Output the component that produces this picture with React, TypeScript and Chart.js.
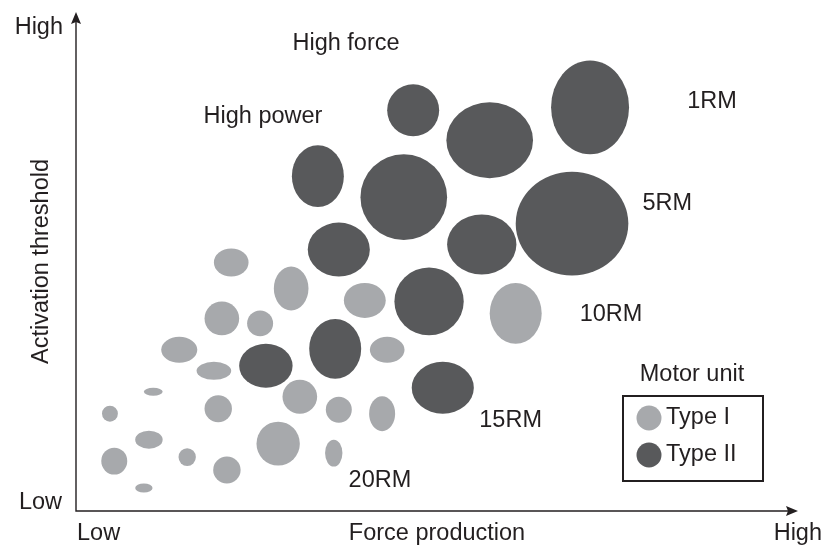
import React, { useEffect, useRef } from "react";
import { Chart, registerables } from "chart.js";

Chart.register(...registerables);

// Diagram units: x 0..100 (Force production), y 0..100 (Activation threshold)
// Type I (slow) motor units: centre and half-sizes
const typeIX = [21.5, 29.8, 40.0, 20.2, 25.5, 14.3, 43.1, 19.1, 10.7, 31.0, 4.7, 19.7, 36.4, 42.4, 10.1, 28.0, 5.3, 15.4, 20.9, 35.7, 9.4, 60.9];
const typeIY = [49.8, 44.6, 42.2, 38.6, 37.6, 32.3, 32.3, 28.1, 23.9, 22.9, 19.5, 20.5, 20.3, 19.5, 14.3, 13.5, 10.0, 10.8, 8.2, 11.6, 4.6, 39.6];
const typeIRx = [2.4, 2.4, 2.9, 2.4, 1.8, 2.5, 2.4, 2.4, 1.3, 2.4, 1.1, 1.9, 1.8, 1.8, 1.9, 3.0, 1.8, 1.2, 1.9, 1.2, 1.2, 3.6];
const typeIRy = [2.8, 4.4, 3.5, 3.4, 2.6, 2.6, 2.6, 1.8, 0.8, 3.4, 1.6, 2.7, 2.6, 3.5, 1.8, 4.4, 2.7, 1.8, 2.7, 2.7, 0.9, 6.1];

// Type II (fast) motor units
const typeIIX = [33.5, 45.4, 36.4, 46.7, 57.3, 71.2, 68.7, 56.2, 48.9, 26.3, 35.9, 50.8];
const typeIIY = [67.1, 62.9, 52.4, 80.3, 74.3, 80.9, 57.6, 53.4, 42.0, 29.1, 32.5, 24.7];
const typeIIRx = [3.6, 6.0, 4.3, 3.6, 6.0, 5.4, 7.8, 4.8, 4.8, 3.7, 3.6, 4.3];
const typeIIRy = [6.2, 8.6, 5.4, 5.2, 7.6, 9.4, 10.4, 6.0, 6.8, 4.4, 6.0, 5.2];

// Text annotations inside the plot
const noteLabels = ["High force", "High power", "1RM", "5RM", "10RM", "15RM", "20RM"];
const noteX = [37.4, 25.9, 88.1, 81.9, 74.1, 60.2, 42.1];
const noteY = [93.6, 79.1, 82.1, 61.6, 39.4, 18.1, 6.2];

// Axis texts
const xAxisTitle = "Force production";
const yAxisTitle = "Activation threshold";
const lowLabel = "Low";
const highLabel = "High";
const legendTitle = "Motor unit";
const seriesNames = ["Type I", "Type II"];

const LIGHT = "#a7a9ac";
const DARK = "#58595b";
const INK = "#231f20";
const FONT = '23.5px "Liberation Sans", Arial, Helvetica, sans-serif';

function toPoints(xs: number[], ys: number[], rxs: number[], rys: number[]) {
  return xs.map((x, i) => ({ x, y: ys[i], rx: rxs[i], ry: rys[i] }));
}

const ellipsePlugin = {
  id: "ellipses",
  afterDatasetsDraw(chart: any) {
    const ctx = chart.ctx;
    const xs = chart.scales.x;
    const ys = chart.scales.y;
    chart.data.datasets.forEach((ds: any, di: number) => {
      const meta = chart.getDatasetMeta(di);
      meta.data.forEach((el: any, i: number) => {
        const raw = ds.data[i];
        const rxp = Math.abs(xs.getPixelForValue(raw.x + raw.rx) - xs.getPixelForValue(raw.x));
        const ryp = Math.abs(ys.getPixelForValue(raw.y + raw.ry) - ys.getPixelForValue(raw.y));
        ctx.save();
        ctx.beginPath();
        ctx.ellipse(el.x, el.y, rxp, ryp, 0, 0, Math.PI * 2);
        ctx.fillStyle = ds.backgroundColor;
        ctx.fill();
        ctx.restore();
      });
    });
  },
};

const decorPlugin = {
  id: "decor",
  afterDraw(chart: any) {
    const ctx = chart.ctx;
    const { left, right, top, bottom } = chart.chartArea;
    const xs = chart.scales.x;
    const ys = chart.scales.y;
    ctx.save();
    ctx.strokeStyle = INK;
    ctx.fillStyle = INK;
    ctx.lineWidth = 1.4;
    // axes
    ctx.beginPath();
    ctx.moveTo(left, top + 6);
    ctx.lineTo(left, bottom);
    ctx.lineTo(right - 6, bottom);
    ctx.stroke();
    // arrow heads
    ctx.beginPath();
    ctx.moveTo(left, top);
    ctx.lineTo(left + 5, top + 12);
    ctx.lineTo(left, top + 10);
    ctx.lineTo(left - 5, top + 12);
    ctx.closePath();
    ctx.fill();
    ctx.beginPath();
    ctx.moveTo(right, bottom);
    ctx.lineTo(right - 12, bottom - 5);
    ctx.lineTo(right - 10, bottom);
    ctx.lineTo(right - 12, bottom + 5);
    ctx.closePath();
    ctx.fill();

    ctx.font = FONT;
    ctx.textBaseline = "middle";
    // y axis end labels
    ctx.textAlign = "right";
    ctx.fillText(highLabel, left - 13, top + 16);
    ctx.fillText(lowLabel, left - 14, bottom - 8);
    // x axis labels
    ctx.textAlign = "left";
    ctx.fillText(lowLabel, left + 1, bottom + 23);
    ctx.textAlign = "center";
    ctx.fillText(xAxisTitle, (left + right) / 2, bottom + 23);
    ctx.textAlign = "right";
    ctx.fillText(highLabel, right + 24, bottom + 23);
    // y title
    ctx.save();
    ctx.translate(left - 34, (top + bottom) / 2);
    ctx.rotate(-Math.PI / 2);
    ctx.textAlign = "center";
    ctx.fillText(yAxisTitle, 0, 0);
    ctx.restore();

    // annotations
    ctx.textAlign = "center";
    noteLabels.forEach((t, i) => {
      ctx.fillText(t, xs.getPixelForValue(noteX[i]), ys.getPixelForValue(noteY[i]));
    });

    // legend
    const bx = right - 175;
    const by = bottom - 115;
    ctx.textAlign = "center";
    ctx.fillText(legendTitle, bx + 69, by - 21);
    ctx.lineWidth = 2;
    ctx.strokeRect(bx, by, 140, 85);
    const colors = [LIGHT, DARK];
    seriesNames.forEach((name, i) => {
      const cy = by + 22 + i * 37;
      ctx.beginPath();
      ctx.arc(bx + 26, cy, 12.5, 0, Math.PI * 2);
      ctx.fillStyle = colors[i];
      ctx.fill();
      ctx.fillStyle = INK;
      ctx.textAlign = "left";
      ctx.fillText(name, bx + 43, cy);
    });
    ctx.restore();
  },
};

export default function App() {
  const canvasRef = useRef<HTMLCanvasElement | null>(null);

  useEffect(() => {
    document.body.style.margin = "0";
    const canvas = canvasRef.current;
    if (!canvas) return;
    const chart = new Chart(canvas, {
      type: "scatter",
      data: {
        datasets: [
          {
            label: seriesNames[0],
            data: toPoints(typeIX, typeIY, typeIRx, typeIRy) as any,
            backgroundColor: LIGHT,
            pointRadius: 0,
            pointHoverRadius: 0,
          },
          {
            label: seriesNames[1],
            data: toPoints(typeIIX, typeIIY, typeIIRx, typeIIRy) as any,
            backgroundColor: DARK,
            pointRadius: 0,
            pointHoverRadius: 0,
          },
        ],
      },
      options: {
        responsive: false,
        animation: false,
        events: [],
        layout: { padding: { left: 76, right: 24, top: 12, bottom: 35 } },
        plugins: {
          legend: { display: false },
          tooltip: { enabled: false },
        },
        scales: {
          x: { type: "linear", min: 0, max: 100, display: false },
          y: { type: "linear", min: 0, max: 100, display: false },
        },
      },
      plugins: [ellipsePlugin, decorPlugin],
    });
    return () => chart.destroy();
  }, []);

  return (
    <div style={{ width: 822, height: 546, background: "#fff" }}>
      <canvas ref={canvasRef} width={822} height={546} style={{ display: "block" }} />
    </div>
  );
}
